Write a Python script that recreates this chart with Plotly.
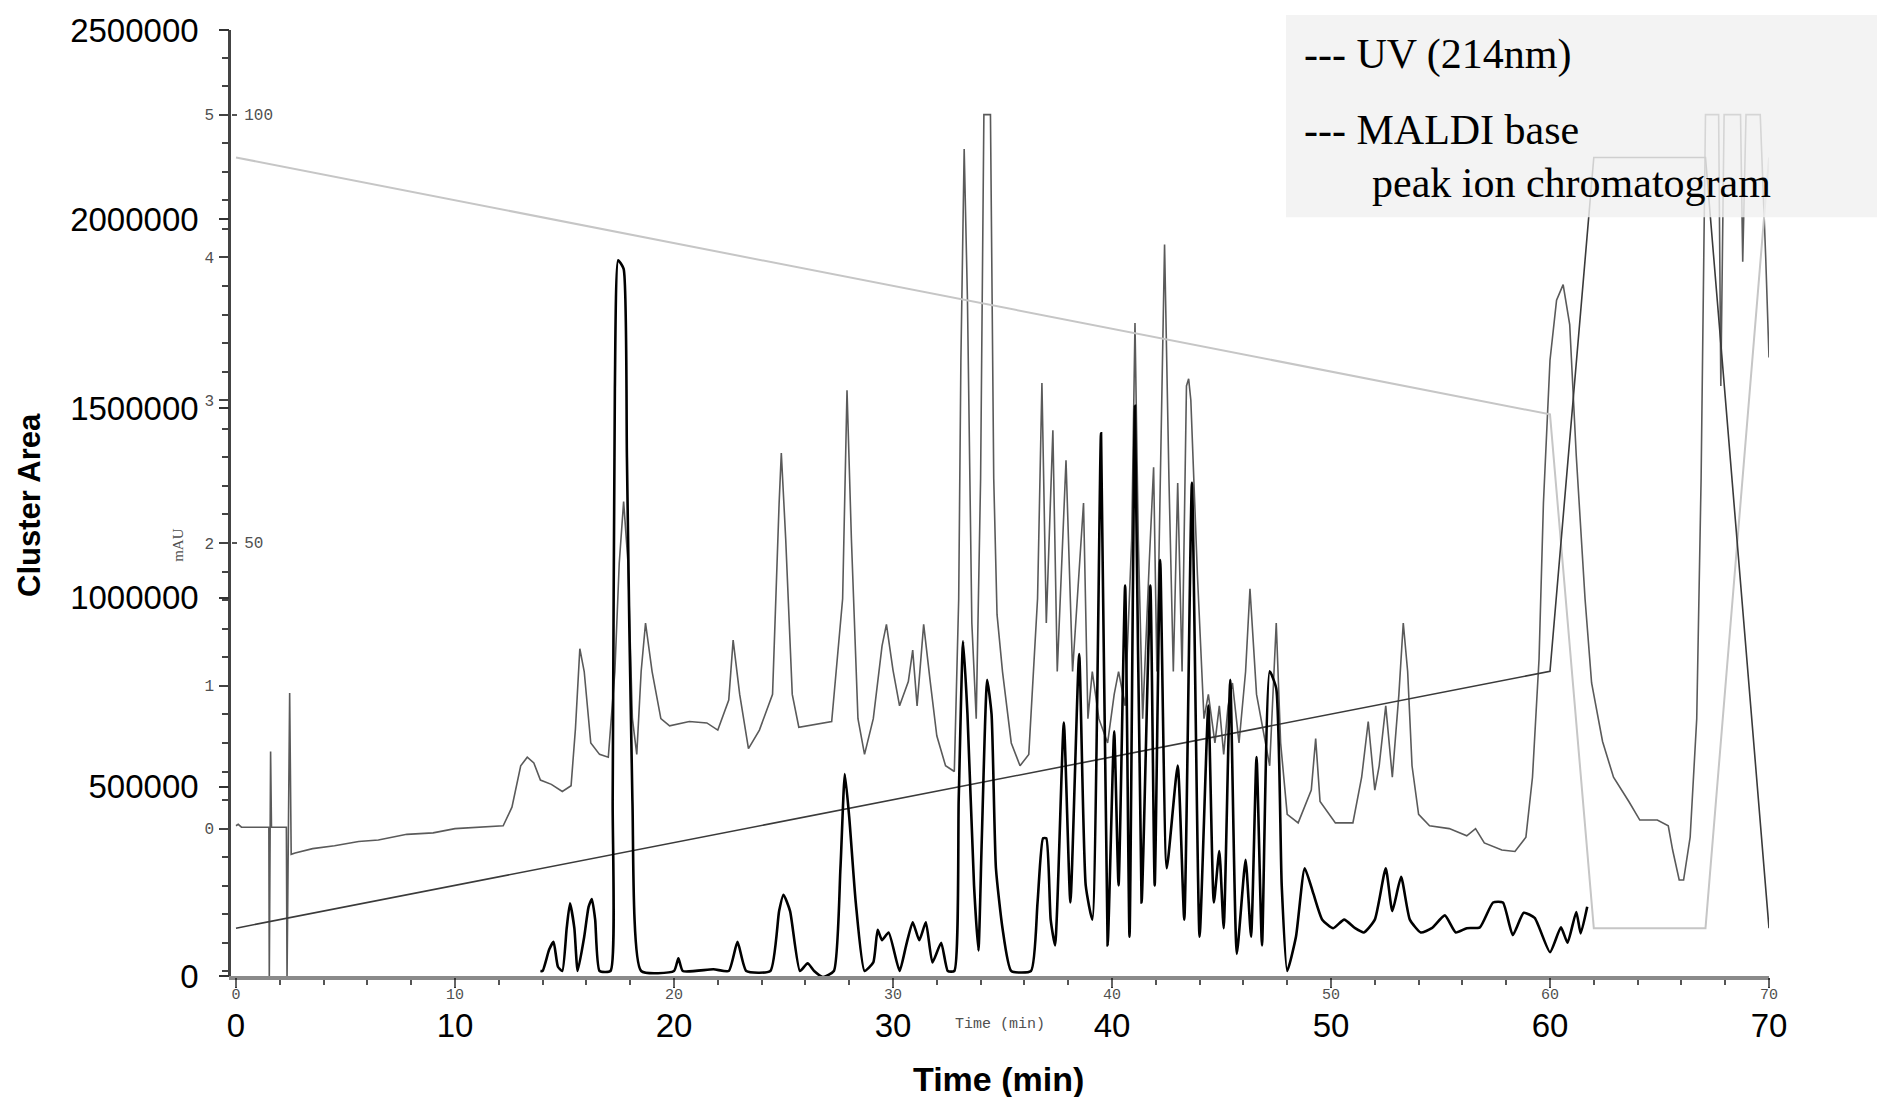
import plotly.graph_objects as go

# ---------------- data ----------------
# UV trace (214 nm), mAU
time_uv = [0, 0.1, 0.25, 1.5, 1.52, 1.58, 1.62, 2.3, 2.33, 2.4, 2.45, 2.52, 2.7, 3.5, 4.5, 5.6, 6.5,
           7.8, 9.0, 10.0, 11.0, 12.2, 12.6, 13.0, 13.3, 13.6, 13.9, 14.4, 14.9, 15.3, 15.5, 15.7,
           15.9, 16.2, 16.6, 17.0, 17.3, 17.5, 17.7, 17.9, 18.1, 18.3, 18.5, 18.7, 19.0, 19.4, 19.8,
           20.7, 21.5, 22.0, 22.5, 22.7, 23.0, 23.4, 23.9, 24.5, 24.8, 24.9, 25.1, 25.4, 25.7, 26.4,
           27.2, 27.7, 27.9, 28.1, 28.4, 28.7, 29.1, 29.5, 29.7, 30.0, 30.3, 30.7, 30.9, 31.1, 31.4,
           31.7, 32.0, 32.4, 32.8, 33.0, 33.1, 33.25, 33.4, 33.6, 33.8, 34.0, 34.15, 34.45, 34.6,
           34.75, 35.0, 35.4, 35.8, 36.2, 36.6, 36.8, 37.0, 37.3, 37.5, 37.9, 38.2, 38.7, 38.9, 39.1,
           39.4, 39.8, 40.1, 40.3, 40.6, 40.9, 41.05, 41.2, 41.4, 41.7, 41.9, 42.05, 42.2, 42.4, 42.6,
           42.8, 43.0, 43.2, 43.4, 43.5, 43.6, 43.9, 44.2, 44.4, 44.7, 44.9, 45.1, 45.3, 45.5, 45.8,
           46.1, 46.3, 46.6, 46.9, 47.2, 47.5, 47.7, 48.0, 48.5, 49.1, 49.3, 49.5, 50.2, 51.0, 51.4,
           51.7, 52.0, 52.2, 52.5, 52.8, 53.1, 53.3, 53.5, 53.7, 54.0, 54.5, 55.4, 56.2, 56.6, 57.0,
           57.8, 58.4, 58.9, 59.2, 59.5, 59.7, 60.0, 60.3, 60.6, 60.9, 61.2, 61.6, 61.9, 62.4, 62.9,
           63.6, 64.1, 64.9, 65.4, 65.6, 65.9, 66.1, 66.4, 66.7, 66.9, 67.1, 67.7, 67.8, 67.95, 68.7,
           68.8, 68.95, 69.6, 69.85, 70.0]
uv_mau = [0.02, 0.03, 0.01, 0.01, -1.06, 0.54, 0.01, 0.01, -1.06, 0.43, 0.95, -0.18, -0.17, -0.14,
          -0.12, -0.09, -0.08, -0.04, -0.03, 0.0, 0.01, 0.02, 0.15, 0.44, 0.5, 0.46, 0.34, 0.31, 0.26,
          0.3, 0.7, 1.26, 1.1, 0.6, 0.52, 0.5, 1.1, 1.86, 2.29, 1.86, 0.77, 0.52, 1.1, 1.44, 1.1, 0.77,
          0.72, 0.75, 0.74, 0.69, 0.9, 1.32, 0.94, 0.56, 0.69, 0.94, 2.28, 2.63, 2.03, 0.94, 0.71, 0.73,
          0.75, 1.61, 3.07, 2.03, 0.77, 0.52, 0.77, 1.28, 1.43, 1.11, 0.86, 1.03, 1.25, 0.86, 1.43,
          1.03, 0.65, 0.44, 0.4, 1.61, 3.28, 4.76, 3.7, 1.44, 0.77, 2.45, 5.0, 5.0, 2.45, 1.5, 1.1,
          0.6, 0.44, 0.52, 1.61, 3.12, 1.44, 2.79, 1.1, 2.58, 1.1, 2.28, 0.77, 1.1, 0.77, 0.6, 0.94,
          1.1, 0.86, 2.03, 3.54, 2.03, 0.77, 1.86, 2.53, 1.1, 2.45, 4.09, 2.45, 1.1, 2.42, 1.1, 3.1,
          3.15, 3.0, 1.78, 0.77, 0.94, 0.6, 0.86, 0.52, 0.86, 1.02, 0.6, 1.1, 1.68, 0.94, 0.69, 0.44,
          1.44, 0.6, 0.1, 0.04, 0.27, 0.63, 0.19, 0.04, 0.04, 0.36, 0.75, 0.27, 0.44, 0.86, 0.36, 0.94,
          1.44, 1.1, 0.44, 0.1, 0.02, 0.0, -0.05, 0.0, -0.1, -0.15, -0.16, -0.06, 0.36, 1.19, 2.28,
          3.28, 3.7, 3.81, 3.53, 2.61, 1.61, 1.02, 0.61, 0.36, 0.19, 0.06, 0.06, 0.02, -0.15, -0.36,
          -0.36, -0.06, 0.77, 2.45, 5.0, 5.0, 3.1, 5.0, 5.0, 3.97, 5.0, 5.0, 4.0, 3.3]

# MALDI base peak ion chromatogram, relative intensity (%)
time_maldi = [13.9, 14.0, 14.3, 14.5, 14.7, 14.9, 15.1, 15.25, 15.45, 15.6, 15.9, 16.1, 16.25, 16.4, 16.6,
              17.1, 17.2, 17.3, 17.45, 17.7, 17.85, 18.1, 18.5, 20.0, 20.2, 20.4, 21.8, 22.5, 22.9,
              23.3, 24.4, 24.8, 25.0, 25.3, 25.75, 26.1, 26.4, 26.8, 27.3, 27.6, 27.8, 28.0, 28.3,
              28.7, 29.1, 29.3, 29.5, 29.8, 30.3, 30.6, 30.9, 31.2, 31.5, 31.8, 32.2, 32.5, 32.8,
              33.0, 33.2, 33.4, 33.7, 33.9, 34.05, 34.3, 34.5, 34.7, 35.0, 35.4, 36.3, 36.6, 36.85,
              37.0, 37.2, 37.4, 37.8, 38.1, 38.5, 38.8, 39.1, 39.5, 39.8, 40.1, 40.3, 40.6, 40.8,
              41.05, 41.35, 41.75, 41.95, 42.2, 42.5, 43.0, 43.3, 43.65, 44.0, 44.4, 44.65, 44.9,
              45.1, 45.4, 45.7, 46.1, 46.35, 46.6, 46.85, 47.2, 47.5, 47.75, 48.0, 48.4, 48.8, 49.2,
              49.6, 50.1, 50.6, 51.1, 51.5, 52.0, 52.5, 52.8, 53.2, 53.6, 54.1, 54.6, 55.2, 55.7,
              56.2, 56.8, 57.4, 57.85, 58.3, 58.8, 59.3, 60.0, 60.5, 60.8, 61.2, 61.4, 61.7]
maldi_pct = [0, 0, 2.5, 3.4, 0.5, 0, 5, 7.9, 5, 0, 4, 7.5, 8.4, 6, 0,
             0, 20, 68, 83, 82, 60, 20, 0, 0, 1.5, 0, 0.2, 0, 3.4,
             0, 0, 7, 8.9, 7, 0, 0.9, 0, -0.7, 0, 12, 23, 18, 8,
             0, 1, 4.8, 3.6, 4.5, 0, 3, 5.7, 3.6, 5.7, 1.0, 3.3, 0, 0,
             20, 38.5, 30, 10, 2.4, 15, 34, 30, 12, 5, 0, 0, 8, 15.5,
             15.5, 6, 3, 29, 8, 37, 10, 6, 62.8, 3, 28, 10, 45, 4,
             66, 8, 45, 10, 48, 12, 24, 6, 57, 4, 31, 8, 14,
             5, 34, 2, 13, 4, 25, 3, 35, 33, 10, 0, 4, 12, 9,
             6, 5, 6, 5, 4.5, 6, 12, 7, 11, 6, 4.5, 5, 6.5, 4.5,
             5, 5.1, 8.0, 8.0, 4.2, 6.8, 6.2, 2.2, 5.1, 3.3, 6.9, 4.4, 7.5]

# Solvent gradient (%)
time_grad = [0, 60, 62, 67.1, 70]
grad_a_pct = [95, 65, 5, 5, 95]
grad_b_pct = [5, 35, 95, 95, 5]

# Axis ticks
cluster_ticks = [0, 500000, 1000000, 1500000, 2000000, 2500000]
time_ticks = [0, 10, 20, 30, 40, 50, 60, 70]
mau_ticks = [0, 1, 2, 3, 4, 5]
pct_ticks = [50, 100]

# ---------------- layout geometry (pixels) ----------------
W, H = 1877, 1097
PL, PR, PT, PB = 231, 1769, 26, 976
X0_PIX = 236
PX_PER_MIN = (PR - X0_PIX) / 70.0
x_range = [-(X0_PIX - PL) / PX_PER_MIN, 70]

# mAU scale: 0 at y=828, 1 mAU = 143.4 px
MAU0, MAU_PX = 828, 143.4
mau_range = [-(PB - MAU0) / MAU_PX, (MAU0 - PT) / MAU_PX]
# percent scale: 0 at y=971, 1 % = 8.6 px
PCT0, PCT_PX = 971, 8.6
pct_range = [-(PB - PCT0) / PCT_PX, (PCT0 - PT) / PCT_PX]


def xp(pix):
    return (pix - PL) / (PR - PL)


def yp(pix):
    return (PB - pix) / (PB - PT)


fig = go.Figure()

# empty traces so that the main (Cluster Area / Time) axes and the inner time axis are drawn
fig.add_trace(go.Scatter(x=[], y=[], xaxis="x", yaxis="y", mode="lines", showlegend=False,
                         hoverinfo="skip"))
fig.add_trace(go.Scatter(x=[], y=[], xaxis="x2", yaxis="y", mode="lines", showlegend=False,
                         hoverinfo="skip"))

fig.add_trace(go.Scatter(x=time_grad, y=grad_a_pct, xaxis="x", yaxis="y3", mode="lines",
                         line=dict(color="#c6c6c6", width=2), showlegend=False, hoverinfo="skip"))
fig.add_trace(go.Scatter(x=time_grad, y=grad_b_pct, xaxis="x", yaxis="y3", mode="lines",
                         line=dict(color="#3a3a3a", width=1.6), showlegend=False, hoverinfo="skip"))
fig.add_trace(go.Scatter(x=time_uv, y=uv_mau, xaxis="x", yaxis="y2", mode="lines",
                         line=dict(color="#5a5a5a", width=1.6), showlegend=False, name="UV (214nm)"))
fig.add_trace(go.Scatter(x=time_maldi, y=maldi_pct, xaxis="x", yaxis="y3", mode="lines",
                         line=dict(color="#000000", width=2.6, shape="spline", smoothing=0.5),
                         showlegend=False, name="MALDI base peak ion chromatogram"))

mono_small = dict(family="Liberation Mono, DejaVu Sans Mono, monospace", size=16, color="#505050")
mono_x = dict(family="Liberation Mono, DejaVu Sans Mono, monospace", size=15, color="#505050")
sans_big = dict(family="Liberation Sans, Arial, sans-serif", size=33, color="#000000")

fig.update_layout(
    width=W, height=H,
    margin=dict(l=PL, r=W - PR, t=PT, b=H - PB, pad=0),
    paper_bgcolor="white", plot_bgcolor="white",
    showlegend=False,
    xaxis=dict(range=x_range, tickmode="array", tickvals=time_ticks,
               ticktext=[str(t) for t in time_ticks], ticks="outside", ticklen=10,
               tickcolor="#333", tickwidth=1.5, showline=True, linecolor="#333", linewidth=1.5,
               showgrid=False, zeroline=False, tickfont=sans_big, ticklabelstandoff=10),
    xaxis2=dict(range=x_range, overlaying="x", anchor="y", side="bottom", tickmode="array",
                tickvals=time_ticks, ticktext=[str(t) for t in time_ticks], ticks="outside",
                ticklen=7, tickcolor="#666", tickwidth=1.5, showline=True, linecolor="#8a8a8a",
                linewidth=4, showgrid=False, zeroline=False, tickfont=mono_x,
                ticklabelstandoff=-6,
                minor=dict(ticks="outside", tickmode="linear", tick0=0, dtick=2, ticklen=5,
                           tickcolor="#555", tickwidth=2)),
    yaxis=dict(range=[0, 2500000], tickmode="array", tickvals=cluster_ticks,
               ticktext=[str(v) for v in cluster_ticks], ticks="outside", ticklen=10,
               tickcolor="#333", tickwidth=1.5, showline=True, linecolor="#777", linewidth=1.5,
               showgrid=False, zeroline=False, tickfont=sans_big, ticklabelstandoff=14),
    yaxis2=dict(range=mau_range, overlaying="y", anchor="x", side="left", tickmode="array",
                tickvals=mau_ticks, ticktext=[str(v) for v in mau_ticks], ticks="outside",
                ticklen=9, tickcolor="#444", tickwidth=2, showline=True, linecolor="#444",
                linewidth=2.5, showgrid=False, zeroline=False, tickfont=mono_small,
                ticklabelstandoff=2,
                minor=dict(ticks="outside", tickmode="linear", tick0=0, dtick=0.2, ticklen=6,
                           tickcolor="#444", tickwidth=2)),
    yaxis3=dict(range=pct_range, overlaying="y", anchor="free", position=0, side="right",
                tickmode="array", tickvals=pct_ticks, ticktext=[str(v) for v in pct_ticks],
                ticks="outside", ticklen=5, tickcolor="#555", tickwidth=1.5, showline=False,
                showgrid=False, zeroline=False, tickfont=mono_small, ticklabelstandoff=4),
)

# legend box (semi-transparent, above traces)
fig.add_shape(type="rect", xref="paper", yref="paper", x0=xp(1286), x1=xp(1877),
              y0=yp(214), y1=yp(11), fillcolor="rgba(240,240,240,0.82)", line=dict(width=0),
              layer="above")

legend_font = dict(family="Liberation Serif, Times New Roman, serif", size=42, color="#000")
annotations = [
    dict(text="--- UV (214nm)", x=xp(1302), y=yp(51), xanchor="left", yanchor="middle",
         font=legend_font),
    dict(text="--- MALDI base", x=xp(1302), y=yp(126), xanchor="left", yanchor="middle",
         font=legend_font),
    dict(text="peak ion chromatogram", x=xp(1370), y=yp(180), xanchor="left", yanchor="middle",
         font=legend_font),
    dict(text="Cluster Area", x=xp(30), y=yp(503), xanchor="center", yanchor="middle",
         textangle=-90,
         font=dict(family="Liberation Sans, Arial, sans-serif", size=31, color="#000",
                   weight="bold")),
    dict(text="Time (min)", x=xp(998), y=yp(1079), xanchor="center", yanchor="middle",
         font=dict(family="Liberation Sans, Arial, sans-serif", size=34, color="#000",
                   weight="bold")),
    dict(text="Time (min)", x=xp(1000), y=yp(1025), xanchor="center", yanchor="middle",
         font=dict(family="Liberation Mono, DejaVu Sans Mono, monospace", size=15,
                   color="#505050")),
    dict(text="mAU", x=xp(178), y=yp(543), xanchor="center", yanchor="middle", textangle=-90,
         font=dict(family="Liberation Serif, serif", size=15, color="#505050")),
]
for a in annotations:
    a.update(xref="paper", yref="paper", showarrow=False)
fig.update_layout(annotations=annotations)

fig.write_html("out.html", config={"displayModeBar": False},
               post_script="document.body.style.margin='0';")
